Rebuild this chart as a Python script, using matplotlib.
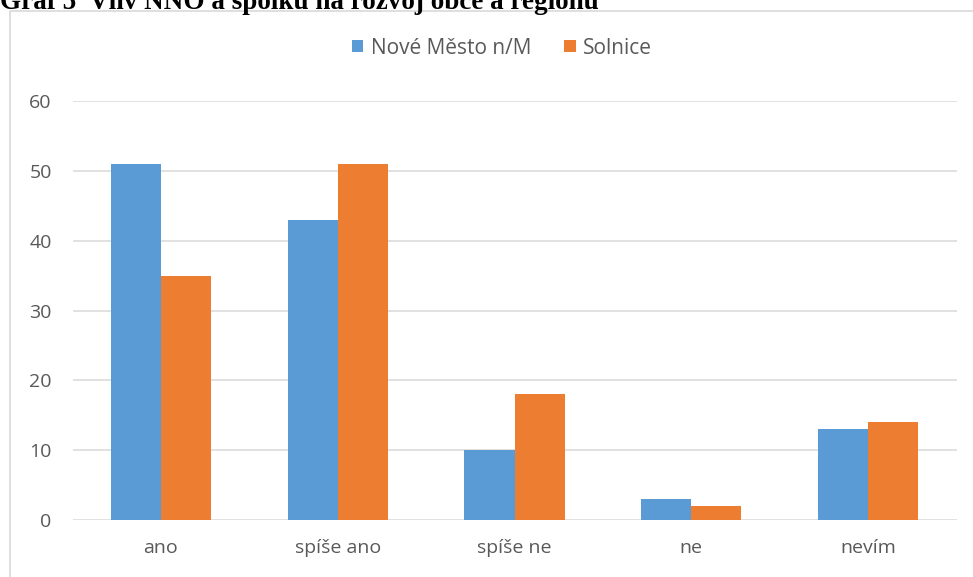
import numpy as np
import matplotlib.pyplot as plt
from matplotlib.patches import Rectangle

categories = ["ano", "spíše ano", "spíše ne", "ne", "nevím"]
nove_mesto = [51, 43, 10, 3, 13]
solnice = [35, 51, 18, 2, 14]
series_names = ["Nové Město n/M", "Solnice"]

W, H = 973, 577
fig = plt.figure(figsize=(W / 100, H / 100), dpi=100)

# axes box in pixels
left, right, top, bottom = 72.5, 956.5, 101, 520
ax = fig.add_axes([left / W, 1 - bottom / H, (right - left) / W, (bottom - top) / H])

x = np.arange(len(categories))
bw = 0.283
ax.bar(x - bw / 2, nove_mesto, bw, color="#5B9BD5", label=series_names[0], zorder=3)
ax.bar(x + bw / 2, solnice, bw, color="#ED7D31", label=series_names[1], zorder=3)

ax.set_xlim(-0.5, len(categories) - 0.5)
ax.set_ylim(0, 60)
ax.set_yticks(range(0, 61, 10))
ax.set_xticks(x)
ax.set_xticklabels(categories)

ax.grid(axis="y", color="#D9D9D9", linewidth=1.1, zorder=0)
for s in ax.spines.values():
    s.set_visible(False)
ax.tick_params(length=0, colors="#595959", labelsize=14)
ax.tick_params(axis="y", pad=15)
ax.tick_params(axis="x", pad=14)
for lab in ax.get_xticklabels() + ax.get_yticklabels():
    lab.set_family("Open Sans")

leg = fig.legend(loc="center", bbox_to_anchor=(502 / W, 1 - 48 / H), ncol=2,
                 frameon=False, handlelength=0.55, handleheight=0.55,
                 handletextpad=0.35, columnspacing=1.6,
                 prop={"family": "Open Sans", "size": 15})
for t in leg.get_texts():
    t.set_color("#595959")

# chart frame
fig.patches.append(Rectangle((9.5 / W, -0.1), 1.2, 1 - 10.5 / H + 0.1,
                             transform=fig.transFigure, fill=False,
                             edgecolor="#D9D9D9", linewidth=1.2))

fig.text(0, 1 - 9 / H, "Graf 5  Vliv NNO a spolku na rozvoj obce a regionu",
         family="Liberation Serif", weight="bold", size=19.5,
         ha="left", va="baseline")

fig.savefig("out.png", dpi=100)
